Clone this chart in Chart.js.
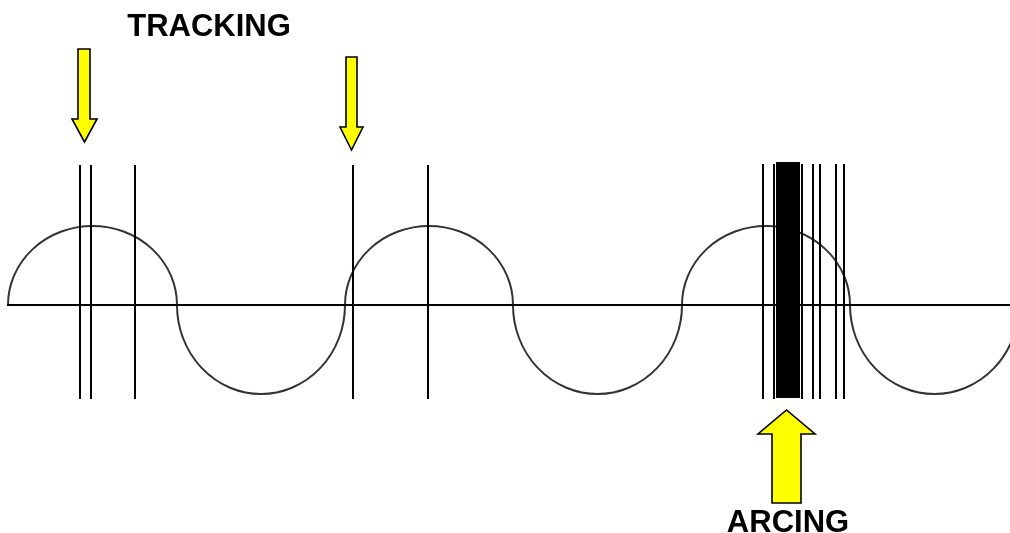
<!DOCTYPE html>
<html><head><meta charset="utf-8">
<script src="https://cdn.jsdelivr.net/npm/chart.js@4/dist/chart.umd.min.js"></script>
<style>html,body{margin:0;padding:0;background:#fff}#wrap{width:1010px;height:533px;position:relative}</style>
</head><body><div id="wrap"><canvas id="c"></canvas></div>
<script>
// Diagram data (x in horizontal units, y relative to the zero axis; up positive)
const waveCrossings = [8, 177, 345, 513, 682, 850, 1019];
const waveUpAmp = 79;
const waveDownAmp = 89;
const axisStart = 7, axisEnd = 1010;
const trackingLines = [80, 91, 135, 353, 428];
const arcingLines = [763, 774, 802, 813, 820, 836, 844];
const arcingBand = [776, 800];
const discTop = 140, discBottom = -94;
const bandTop = 143, bandBottom = -93;
// arrows: shaft left/right, head left/right, tail y, head-base y, tip y
const arrowShaftL = [78, 346, 772];
const arrowShaftR = [90, 357, 801];
const arrowHeadL  = [72, 340, 758];
const arrowHeadR  = [97, 363, 815];
const arrowTail   = [256, 248, -198];
const arrowBase   = [186, 178, -129];
const arrowTip    = [163, 155, -105];
const labels = ['TRACKING', 'ARCING'];
const labelX = [209, 788];
const labelBaseline = [269, -227];

const X_MIN = 0, X_MAX = 1010, Y_MIN = -228, Y_MAX = 305;

function seg(xs, top, bottom) {
  const pts = [];
  xs.forEach(x => { pts.push({x, y: top}); pts.push({x, y: bottom}); pts.push({x, y: null}); });
  return pts;
}

const wavePlugin = {
  id: 'wave',
  beforeDatasetsDraw(chart) {
    const {ctx, scales: {x, y}} = chart;
    ctx.save();
    ctx.strokeStyle = '#333';
    ctx.lineWidth = 2;
    for (let i = 0; i < waveCrossings.length - 1; i++) {
      const a = waveCrossings[i], b = waveCrossings[i + 1];
      const up = i % 2 === 0;
      const cx = x.getPixelForValue((a + b) / 2);
      const rx = Math.abs(x.getPixelForValue(b) - x.getPixelForValue(a)) / 2;
      const cy = y.getPixelForValue(0);
      const ry = Math.abs(y.getPixelForValue(up ? waveUpAmp : -waveDownAmp) - cy);
      ctx.beginPath();
      if (up) ctx.ellipse(cx, cy, rx, ry, 0, Math.PI, 2 * Math.PI);
      else ctx.ellipse(cx, cy, rx, ry, 0, 0, Math.PI);
      ctx.stroke();
    }
    ctx.restore();
  },
  afterDatasetsDraw(chart) {
    const {ctx, scales: {x, y}} = chart;
    ctx.save();
    ctx.fillStyle = '#000';
    const l = x.getPixelForValue(arcingBand[0]), r = x.getPixelForValue(arcingBand[1]);
    const t = y.getPixelForValue(bandTop), bt = y.getPixelForValue(bandBottom);
    ctx.fillRect(l, t, r - l, bt - t);
    // arrows
    ctx.fillStyle = '#ffff00';
    ctx.strokeStyle = '#000';
    ctx.lineWidth = 1.6;
    ctx.lineJoin = 'miter';
    for (let i = 0; i < arrowTip.length; i++) {
      const sl = x.getPixelForValue(arrowShaftL[i]), sr = x.getPixelForValue(arrowShaftR[i]);
      const hl = x.getPixelForValue(arrowHeadL[i]), hr = x.getPixelForValue(arrowHeadR[i]);
      const tail = y.getPixelForValue(arrowTail[i]), base = y.getPixelForValue(arrowBase[i]);
      const tip = y.getPixelForValue(arrowTip[i]);
      const mid = (hl + hr) / 2;
      ctx.beginPath();
      ctx.moveTo(sl, tail); ctx.lineTo(sr, tail); ctx.lineTo(sr, base); ctx.lineTo(hr, base);
      ctx.lineTo(mid, tip); ctx.lineTo(hl, base); ctx.lineTo(sl, base); ctx.closePath();
      ctx.fill(); ctx.stroke();
    }
    // labels
    ctx.fillStyle = '#000';
    ctx.textAlign = 'center';
    ctx.textBaseline = 'alphabetic';
    ctx.font = 'bold 31px "Liberation Sans", Arial, sans-serif';
    for (let i = 0; i < labels.length; i++) {
      ctx.fillText(labels[i], x.getPixelForValue(labelX[i]), y.getPixelForValue(labelBaseline[i]));
    }
    ctx.restore();
  }
};

new Chart(document.getElementById('c'), {
  type: 'scatter',
  data: {
    datasets: [
      { data: [{x: axisStart, y: 0}, {x: axisEnd, y: 0}], showLine: true, borderColor: '#000', borderWidth: 2, pointRadius: 0 },
      { data: seg(trackingLines, discTop, discBottom), showLine: true, spanGaps: false, borderColor: '#000', borderWidth: 2, pointRadius: 0 },
      { data: seg(arcingLines, discTop + 1, discBottom), showLine: true, spanGaps: false, borderColor: '#000', borderWidth: 2, pointRadius: 0 }
    ]
  },
  options: {
    responsive: true, maintainAspectRatio: false, animation: false,
    layout: { padding: 0 },
    plugins: { legend: { display: false }, tooltip: { enabled: false } },
    scales: {
      x: { type: 'linear', min: X_MIN, max: X_MAX, display: false },
      y: { type: 'linear', min: Y_MIN, max: Y_MAX, display: false }
    },
    events: []
  },
  plugins: [wavePlugin]
});
</script>
</body></html>
